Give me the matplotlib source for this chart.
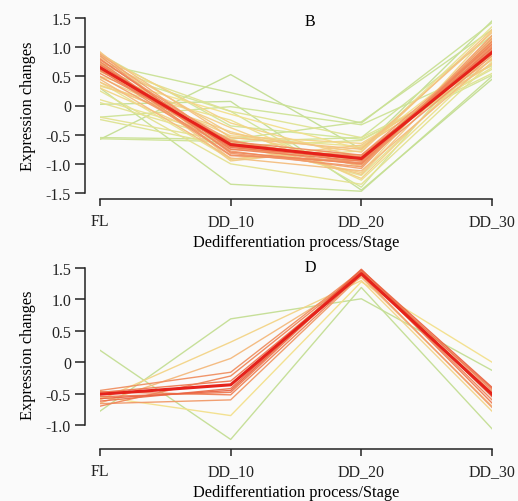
import numpy as np
import matplotlib.pyplot as plt
from matplotlib.colors import LinearSegmentedColormap

plt.rcParams['font.family'] = ['Liberation Serif', 'DejaVu Serif']

stages = ['FL', 'DD_10', 'DD_20', 'DD_30']

# cluster B: profiles (FL, DD_10, DD_20, DD_30) and membership
b_profiles = [
    [0.80, -0.75, -0.95, 1.05], [0.75, -0.80, -1.00, 1.10], [0.70, -0.72, -0.92, 0.98],
    [0.60, -0.70, -0.88, 0.95], [0.85, -0.82, -1.05, 1.15], [0.68, -0.85, -0.98, 1.00],
    [0.55, -0.62, -0.85, 0.88], [0.72, -0.78, -1.08, 1.20], [0.78, -0.65, -0.90, 1.02],
    [0.62, -0.86, -0.95, 0.92], [0.88, -0.70, -1.02, 1.08], [0.50, -0.75, -0.85, 1.05],
    [0.66, -0.60, -1.00, 0.85], [0.90, -0.55, -0.75, 1.25], [0.45, -0.90, -1.12, 0.80],
    [0.82, -0.48, -0.80, 1.30], [0.40, -0.58, -1.18, 1.12], [0.92, -0.92, -0.68, 0.78],
    [0.35, -0.45, -1.05, 1.18], [0.58, -0.38, -1.25, 0.95], [0.75, -0.95, -0.72, 0.72],
    [0.48, -0.52, -0.65, 0.70], [0.30, -0.68, -1.15, 1.28], [0.85, -0.30, -0.90, 0.88],
    [0.50, -0.15, -0.75, 1.00], [0.33, -0.25, -1.28, 0.82], [0.10, -0.55, -0.70, 0.65],
    [0.05, -0.60, -1.20, 0.90], [-0.20, -0.62, -0.95, 1.10], [-0.24, -0.70, -0.60, 0.62],
    [0.25, -1.00, -1.35, 0.75], [0.70, -0.10, -0.55, 0.55], [0.40, -0.92, -0.78, 1.35],
    [-0.58, 0.53, -0.75, 1.45], [0.72, 0.22, -0.30, 1.42], [-0.57, -0.62, -0.55, 1.20],
    [-0.55, -0.58, -0.28, 1.30], [0.30, -1.35, -1.47, 0.50], [0.02, 0.07, -1.45, 0.45],
    [-0.20, -0.02, -0.33, 0.68], [0.60, -0.10, -1.40, 1.15], [0.88, -0.35, -0.58, 0.52],
]
b_member = [0.80, 0.78, 0.82, 0.80, 0.72, 0.75, 0.76, 0.70, 0.74, 0.72, 0.68, 0.70, 0.72,
            0.58, 0.60, 0.55, 0.56, 0.55, 0.52, 0.52, 0.54, 0.50, 0.50, 0.50,
            0.45, 0.42, 0.40, 0.38, 0.38, 0.35, 0.38, 0.36, 0.40,
            0.22, 0.25, 0.28, 0.25, 0.24, 0.22, 0.28, 0.30, 0.30]
b_center = [0.65, -0.67, -0.91, 0.91]

# cluster D
d_profiles = [
    [0.19, -1.23, 1.19, -1.06], [-0.78, 0.69, 1.01, -0.13], [-0.55, -0.85, 1.28, 0.00],
    [-0.60, 0.32, 1.30, -0.78], [-0.65, 0.06, 1.35, -0.70], [-0.45, -0.16, 1.46, -0.45],
    [-0.70, -0.22, 1.44, -0.60], [-0.48, -0.30, 1.42, -0.42], [-0.62, -0.42, 1.48, -0.55],
    [-0.55, -0.48, 1.45, -0.65], [-0.47, -0.52, 1.40, -0.48], [-0.66, -0.60, 1.38, -0.72],
    [-0.58, -0.45, 1.47, -0.40],
]
d_member = [0.22, 0.22, 0.45, 0.50, 0.62, 0.75, 0.78, 0.82, 0.85, 0.82, 0.80, 0.72, 0.88]
d_center = [-0.51, -0.36, 1.41, -0.51]

cmap = LinearSegmentedColormap.from_list('memb', [
    (0.0, '#9ecb8a'), (0.3, '#d2e597'), (0.45, '#f3e08c'),
    (0.65, '#f4b27a'), (0.82, '#ee7a52'), (1.0, '#e33a28')])

bg = '#fafafa'
fig = plt.figure(figsize=(5.18, 5.02), dpi=100, facecolor=bg)


def draw_panel(rect, profiles, member, center, ylim, ybounds, yticks, ylabels, bottom_off, letter, letter_y):
    ax = fig.add_axes(rect)
    ax.set_facecolor(bg)
    x = np.arange(len(stages))
    order = np.argsort(member)
    for i in order:
        ax.plot(x, profiles[i], color=cmap(member[i]), lw=1.0, alpha=0.95, zorder=2)
    ax.plot(x, center, color='#e5221b', lw=2.2, zorder=3)
    ax.set_xlim(0, 3)
    ax.set_ylim(*ylim)
    ax.set_xticks(x)
    ax.set_xticklabels(stages)
    ax.set_yticks(yticks)
    ax.set_yticklabels(ylabels)
    for s in ['top', 'right']:
        ax.spines[s].set_visible(False)
    ax.spines['left'].set_position(('outward', 10.8))
    ax.spines['bottom'].set_position(('outward', bottom_off))
    ax.spines['left'].set_bounds(*ybounds)
    ax.spines['bottom'].set_bounds(0, 3)
    for s in ['left', 'bottom']:
        ax.spines[s].set_linewidth(1.1)
        ax.spines[s].set_color('#222222')
    ax.tick_params(axis='y', length=7, width=1.1, pad=3, colors='#222222', labelsize=11.5)
    ax.tick_params(axis='x', length=5, width=1.1, pad=5, colors='#222222', labelsize=11.5)
    ax.set_ylabel('Expression changes', fontsize=11.8, labelpad=7)
    ax.set_xlabel('Dedifferentiation process/Stage', fontsize=11.8, labelpad=4)
    fig.text(310 / 518, 1 - letter_y / 502, letter, fontsize=11.5, ha='center', va='center')
    return ax


draw_panel([100 / 518, 308 / 502, 392 / 518, 175 / 502], b_profiles, b_member, b_center,
           (-1.5, 1.5), (-1.5, 1.5), [1.5, 1.0, 0.5, 0, -0.5, -1.0, -1.5],
           ['1.5', '1.0', '0.5', '0', '-0.5', '-1.0', '-1.5'], 4.3, 'B', 22)

draw_panel([100 / 518, 60.3 / 502, 392 / 518, 172.7 / 502], d_profiles, d_member, d_center,
           (-1.25, 1.5), (-1.0, 1.5), [1.5, 1.0, 0.5, 0, -0.5, -1.0],
           ['1.5', '1.0', '0.5', '0', '-0.5', '-1.0'], 6.0, 'D', 268)

fig.savefig('out.png', dpi=100, facecolor=bg)
